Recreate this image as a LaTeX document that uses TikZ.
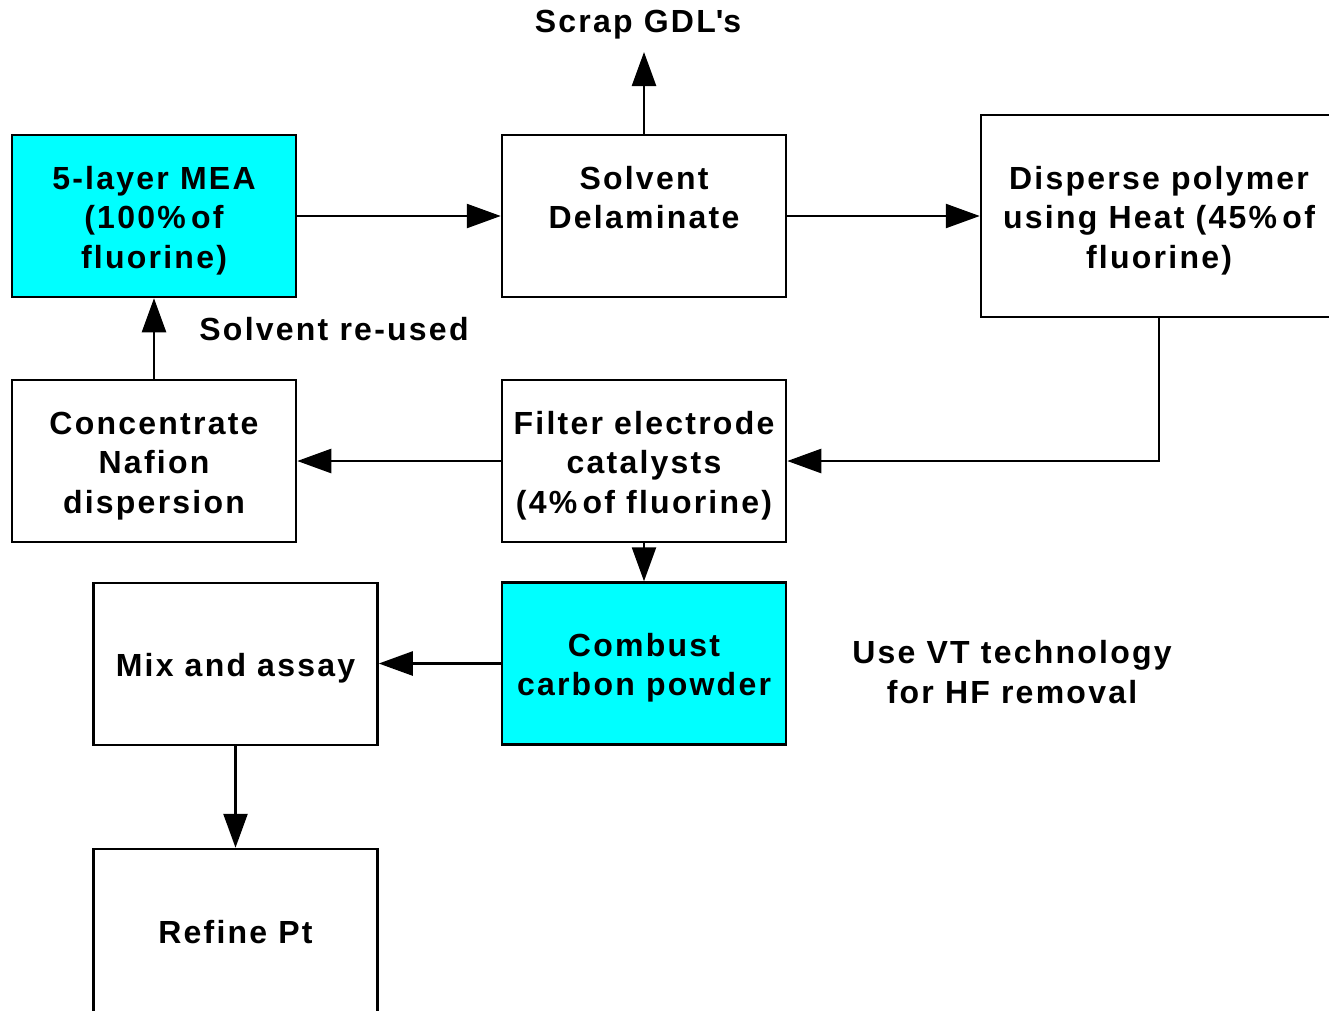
\documentclass[tikz,border=0pt]{standalone}
\usepackage{fontspec}
\setmainfont{Liberation Sans}[LetterSpace=7]
\usetikzlibrary{arrows.meta}
\definecolor{aqua}{RGB}{0,255,255}
% fixed first-line height and last-line depth so all boxes centre their text alike
\newcommand\firstln{\rule{0pt}{34pt}}
\newcommand\lastln{\rule[-9pt]{0pt}{9pt}}

\begin{document}
\begin{tikzpicture}[x=1pt,y=-1pt,
  txt/.style={font=\bfseries\fontsize{32}{39.5}\selectfont, align=center, inner sep=0pt},
  stepbox/.style={txt, draw, line width=2.5pt, minimum width=284pt, minimum height=162pt},
  hl/.style={fill=aqua},
  flow/.style={line width=2.5pt, -{Triangle[length=34pt,width=24pt]}},
]
\useasboundingbox (0,0) rectangle (1329,1010);

% process boxes
\node[stepbox, hl] (mea) at (154,216) {\firstln 5-layer MEA\\(100\%\,of\\fluorine)\lastln};
\node[stepbox] (solv) at (644,216) {\firstln Solvent\\Delaminate\\\lastln};
\node[stepbox, minimum width=356pt, minimum height=202pt] (disp) at (1159,216)
  {\firstln Disperse polymer\\using Heat (45\%\,of\\fluorine)\lastln};
\node[stepbox] (conc) at (154,461) {\firstln Concentrate\\Nafion\\dispersion\lastln};
\node[stepbox] (filt) at (644,461) {\firstln Filter electrode\\catalysts\\(4\%\,of fluorine)\lastln};
\node[stepbox, hl] (comb) at (644,663.5) {\firstln Combust\\carbon powder\lastln};
\node[stepbox] (mix) at (235.5,664) {\firstln Mix and assay\lastln};
\node[stepbox, minimum height=163pt] (refine) at (235.5,930.5) {\firstln Refine Pt\lastln};

% free labels
\node[txt] (scrap) at (638,25) {Scrap GDL\textquotesingle s};
\node[txt] (reuse) at (334,329) {Solvent re-used};
\node[txt] (vt) at (1012,672) {Use VT technology\\for HF removal};
\coordinate (scraptip) at (644,52);

% connectors
\draw[flow] (mea.east) -- (solv.west);
\draw[flow] (solv.east) -- (disp.west |- solv.east);
\draw[flow] (solv.north) -- (scraptip);
\draw[flow] (disp.south) |- (filt.east);
\draw[flow] (filt.west) -- (conc.east);
\draw[flow] (conc.north) -- (mea.south);
\draw[flow] (filt.south) -- (comb.north);
\draw[flow] (comb.west) -- (mix.east |- comb.west);
\draw[flow] (mix.south) -- (refine.north);
\end{tikzpicture}
\end{document}
